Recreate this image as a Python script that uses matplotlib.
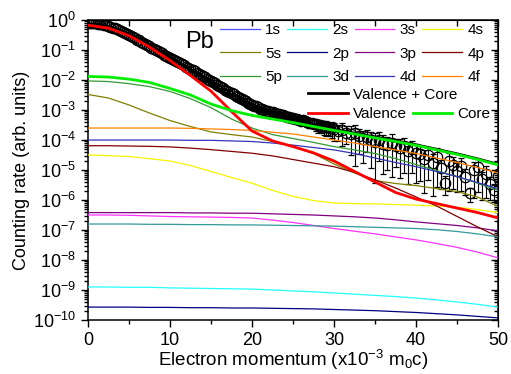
import numpy as np
import matplotlib
matplotlib.use("Agg")
import matplotlib.pyplot as plt

plt.rcParams["font.family"] = ["Liberation Sans", "DejaVu Sans"]
plt.rcParams["mathtext.default"] = "regular"

# theory curves, log10(counting rate) at x = 0, 2.5, ..., 50
xc = np.arange(0, 50.01, 2.5)
valence = [-0.17, -0.27, -0.52, -0.9, -1.35, -1.85, -2.37, -3.05, -3.7, -4.03, -4.22,
           -4.43, -4.7, -5.05, -5.4, -5.75, -5.97, -6.12, -6.27, -6.42, -6.6]
core = [-1.88, -1.9, -1.97, -2.08, -2.28, -2.5, -2.8, -3.02, -3.18, -3.3, -3.42,
        -3.55, -3.68, -3.8, -3.93, -4.05, -4.18, -4.33, -4.48, -4.65, -4.83]
total = [-0.14, -0.22, -0.45, -0.82, -1.22, -1.66, -2.1, -2.6, -2.95, -3.18, -3.35,
         -3.5, -3.64, -3.77, -3.9, -4.03, -4.16, -4.31, -4.46, -4.63, -4.81]

orbitals = ["1s", "2s", "3s", "4s", "5s", "2p", "3p", "4p", "5p", "3d", "4d", "4f"]
colors = ["#4d4dff", "#22ffff", "#ff33ff", "#f5f500", "#808000", "#000080",
          "#800080", "#800000", "#339933", "#339999", "#3333bb", "#ff8000"]
orb_vals = {
    "1s": [-10.6, -10.6, -10.6, -10.6, -10.6, -10.61, -10.61, -10.62, -10.62, -10.63, -10.64,
           -10.65, -10.66, -10.67, -10.68, -10.7, -10.71, -10.73, -10.75, -10.77, -10.8],
    "2s": [-8.9, -8.9, -8.91, -8.91, -8.93, -8.94, -8.95, -8.96, -8.97, -9.0, -9.03,
           -9.06, -9.1, -9.14, -9.18, -9.22, -9.27, -9.33, -9.4, -9.48, -9.57],
    "3s": [-6.5, -6.5, -6.51, -6.53, -6.55, -6.56, -6.57, -6.58, -6.6, -6.67, -6.75,
           -6.85, -6.95, -7.04, -7.13, -7.23, -7.33, -7.45, -7.58, -7.74, -7.93],
    "4s": [-4.5, -4.52, -4.55, -4.62, -4.7, -4.85, -5.05, -5.25, -5.44, -5.68, -5.88,
           -6.02, -6.1, -6.12, -6.13, -6.15, -6.17, -6.2, -6.24, -6.32, -6.42],
    "5s": [-2.48, -2.6, -2.83, -3.1, -3.35, -3.55, -3.73, -3.82, -3.9, -4.05, -4.22,
           -4.45, -4.8, -5.1, -5.35, -5.45, -5.52, -5.62, -5.72, -5.9, -6.22],
    "2p": [-9.57, -9.57, -9.57, -9.58, -9.58, -9.59, -9.59, -9.6, -9.6, -9.61, -9.62,
           -9.63, -9.65, -9.67, -9.69, -9.72, -9.75, -9.79, -9.83, -9.88, -9.93],
    "3p": [-6.42, -6.42, -6.42, -6.42, -6.42, -6.43, -6.43, -6.44, -6.44, -6.46, -6.48,
           -6.5, -6.53, -6.56, -6.6, -6.66, -6.73, -6.79, -6.85, -6.93, -7.03],
    "4p": [-4.19, -4.19, -4.2, -4.21, -4.23, -4.27, -4.32, -4.38, -4.44, -4.53, -4.65,
           -4.77, -4.89, -5.08, -5.33, -5.6, -5.9, -6.2, -6.55, -6.9, -7.23],
    "5p": [-2.03, -2.05, -2.12, -2.22, -2.38, -2.62, -2.92, -3.3, -3.6, -3.82, -3.95,
           -4.08, -4.22, -4.33, -4.45, -4.62, -4.82, -5.02, -5.22, -5.44, -5.68],
    "3d": [-6.8, -6.8, -6.8, -6.81, -6.81, -6.82, -6.82, -6.83, -6.83, -6.84, -6.85,
           -6.86, -6.87, -6.89, -6.91, -6.93, -6.95, -6.99, -7.05, -7.13, -7.23],
    "4d": [-4.0, -4.0, -4.0, -4.0, -4.0, -4.01, -4.01, -4.03, -4.05, -4.1, -4.17,
           -4.25, -4.33, -4.45, -4.6, -4.75, -4.89, -5.05, -5.22, -5.42, -5.63],
    "4f": [-3.6, -3.6, -3.6, -3.6, -3.6, -3.61, -3.63, -3.65, -3.68, -3.74, -3.8,
           -3.9, -4.0, -4.1, -4.22, -4.33, -4.45, -4.6, -4.75, -4.92, -5.1],
}

# experiment, log10 values: x = 0..29.75 step 0.25, then 30..50 step 0.5
xe = np.concatenate([np.arange(0, 29.9, 0.25), np.arange(30, 50.01, 0.5)])
exp_log = [-0.10, -0.10, -0.10, -0.10, -0.11, -0.12, -0.13, -0.14, -0.16, -0.18,
           -0.20, -0.22, -0.25, -0.27, -0.30, -0.33, -0.36, -0.40, -0.43, -0.47,
           -0.50, -0.54, -0.57, -0.61, -0.65, -0.68, -0.72, -0.76, -0.80, -0.84,
           -0.88, -0.92, -0.96, -1.00, -1.04, -1.07, -1.11, -1.15, -1.19, -1.22,
           -1.26, -1.30, -1.33, -1.37, -1.40, -1.44, -1.47, -1.51, -1.55, -1.59,
           -1.63, -1.67, -1.71, -1.75, -1.79, -1.83, -1.87, -1.91, -1.95, -1.99,
           -2.03, -2.07, -2.11, -2.15, -2.19, -2.23, -2.28, -2.32, -2.36, -2.40,
           -2.44, -2.48, -2.52, -2.56, -2.60, -2.63, -2.67, -2.71, -2.75, -2.79,
           -2.82, -2.86, -2.88, -2.90, -2.95, -2.97, -2.99, -3.02, -3.04, -3.06,
           -3.08, -3.11, -3.12, -3.14, -3.17, -3.16, -3.19, -3.22, -3.24, -3.25,
           -3.27, -3.29, -3.30, -3.33, -3.35, -3.34, -3.37, -3.40, -3.42, -3.43,
           -3.45, -3.47, -3.49, -3.51, -3.54, -3.53, -3.55, -3.58, -3.61, -3.60,
           -3.62,
           -3.70, -3.67, -3.75, -3.80, -3.77, -3.86, -3.95, -3.89, -4.01, -4.05,
           -3.99, -4.12, -4.16, -4.09, -4.21, -4.26, -4.19, -4.36, -4.29, -4.42,
           -4.46, -4.62, -4.50, -4.76, -4.55, -4.92, -5.42, -4.70, -4.82, -5.02,
           -4.86, -5.22, -5.76, -5.01, -4.91, -5.31, -5.12, -5.46, -5.66, -5.21]
err_frac = [0.02] * 60 + [0.05] * 20 + [
    0.05, 0.08, 0.10, 0.09, 0.12, 0.10, 0.10, 0.13, 0.15, 0.12,
    0.12, 0.15, 0.18, 0.14, 0.15, 0.20, 0.20, 0.17, 0.18, 0.20,
    0.22, 0.25, 0.25, 0.28, 0.30, 0.25, 0.28, 0.32, 0.35, 0.30,
    0.30, 0.40, 0.45, 0.38, 0.40, 0.50, 0.50, 0.42, 0.45, 0.55,
    0.60,
    0.55, 0.70, 0.60, 0.80, 0.92, 0.75, 0.85, 0.70, 0.88, 0.96,
    0.80, 0.90, 0.85, 0.93, 0.80, 0.90, 0.88, 0.92, 0.85, 0.90,
    0.88, 0.93, 0.85, 0.92, 0.90, 0.80, 0.60, 0.90, 0.85, 0.80,
    0.85, 0.75, 0.50, 0.88, 0.85, 0.80, 0.85, 0.70, 0.60, 0.80]

fig = plt.figure(figsize=(5.11, 3.74), dpi=100)
ax = fig.add_axes([0.172, 0.1444, 0.803, 0.802])

lc, = ax.plot(xc, 10.0 ** np.array(total), color="black", lw=2.0, zorder=2)
ye = 10.0 ** np.array(exp_log)
ax.errorbar(xe, ye, yerr=ye * np.array(err_frac), fmt="o", ms=7.5, mfc="none",
            mec="black", mew=0.9, ecolor="black", elinewidth=0.8, capsize=2.5,
            capthick=0.8, zorder=3)

handles = {}
for name, col in zip(orbitals, colors):
    h, = ax.plot(xc, 10.0 ** np.array(orb_vals[name]), color=col, lw=0.9, zorder=4)
    handles[name] = h
lv, = ax.plot(xc, 10.0 ** np.array(valence), color="red", lw=2.0, zorder=5)
lg, = ax.plot(xc, 10.0 ** np.array(core), color="#00ee00", lw=2.0, zorder=5)

ax.set_yscale("log")
ax.set_xlim(0, 50)
ax.set_ylim(1e-10, 1)
ax.set_xticks([0, 10, 20, 30, 40, 50])
ax.set_xticks([5, 15, 25, 35, 45], minor=True)
ax.yaxis.set_major_locator(matplotlib.ticker.LogLocator(base=10, numticks=20))
ax.yaxis.set_minor_locator(matplotlib.ticker.LogLocator(base=10, subs=np.arange(2, 10), numticks=20))
ax.yaxis.set_minor_formatter(matplotlib.ticker.NullFormatter())
ax.tick_params(which="major", direction="out", length=5, width=1, labelsize=13)
ax.tick_params(which="minor", direction="out", length=3, width=1)

top = ax.secondary_xaxis("top")
top.set_xticks([0, 10, 20, 30, 40, 50])
top.set_xticks([5, 15, 25, 35, 45], minor=True)
top.tick_params(which="both", direction="in", length=4, width=1, labeltop=False)
right = ax.secondary_yaxis("right")
right.yaxis.set_major_locator(matplotlib.ticker.LogLocator(base=10, numticks=20))
right.yaxis.set_minor_locator(matplotlib.ticker.LogLocator(base=10, subs=np.arange(2, 10), numticks=20))
right.tick_params(which="major", direction="in", length=5, width=1, labelright=False)
right.tick_params(which="minor", direction="in", length=3, width=1, labelright=False)
for s in ax.spines.values():
    s.set_linewidth(1.1)

ax.set_xlabel("Electron momentum (x10$^{-3}$ m$_0$c)", fontsize=13.5, labelpad=-1)
ax.set_ylabel("Counting rate (arb. units)", fontsize=13, labelpad=2)

ax.text(0.237, 0.927, "Pb", transform=ax.transAxes, fontsize=17, va="center")

# legend is filled column by column, so order entries to read row by row
order = ["1s", "5s", "5p", "2s", "2p", "3d", "3s", "3p", "4d", "4s", "4p", "4f"]
leg1 = ax.legend([handles[k] for k in order], order, ncol=4, loc="upper left",
                 bbox_to_anchor=(0.322, 0.99), frameon=False, fontsize=11,
                 handlelength=2.6, handletextpad=0.35, columnspacing=0.35,
                 labelspacing=0.62, borderpad=0, borderaxespad=0)
ax.add_artist(leg1)
leg2 = ax.legend([lc], ["Valence + Core"], loc="upper left", bbox_to_anchor=(0.537, 0.775),
                 frameon=False, fontsize=11, handlelength=2.6, handletextpad=0.35,
                 borderpad=0, borderaxespad=0)
ax.add_artist(leg2)
ax.legend([lv, lg], ["Valence", "Core"], ncol=2, loc="upper left", bbox_to_anchor=(0.537, 0.71),
          frameon=False, fontsize=11, handlelength=2.6, handletextpad=0.35,
          columnspacing=0.35, borderpad=0, borderaxespad=0)

fig.savefig("out.png", dpi=100)
